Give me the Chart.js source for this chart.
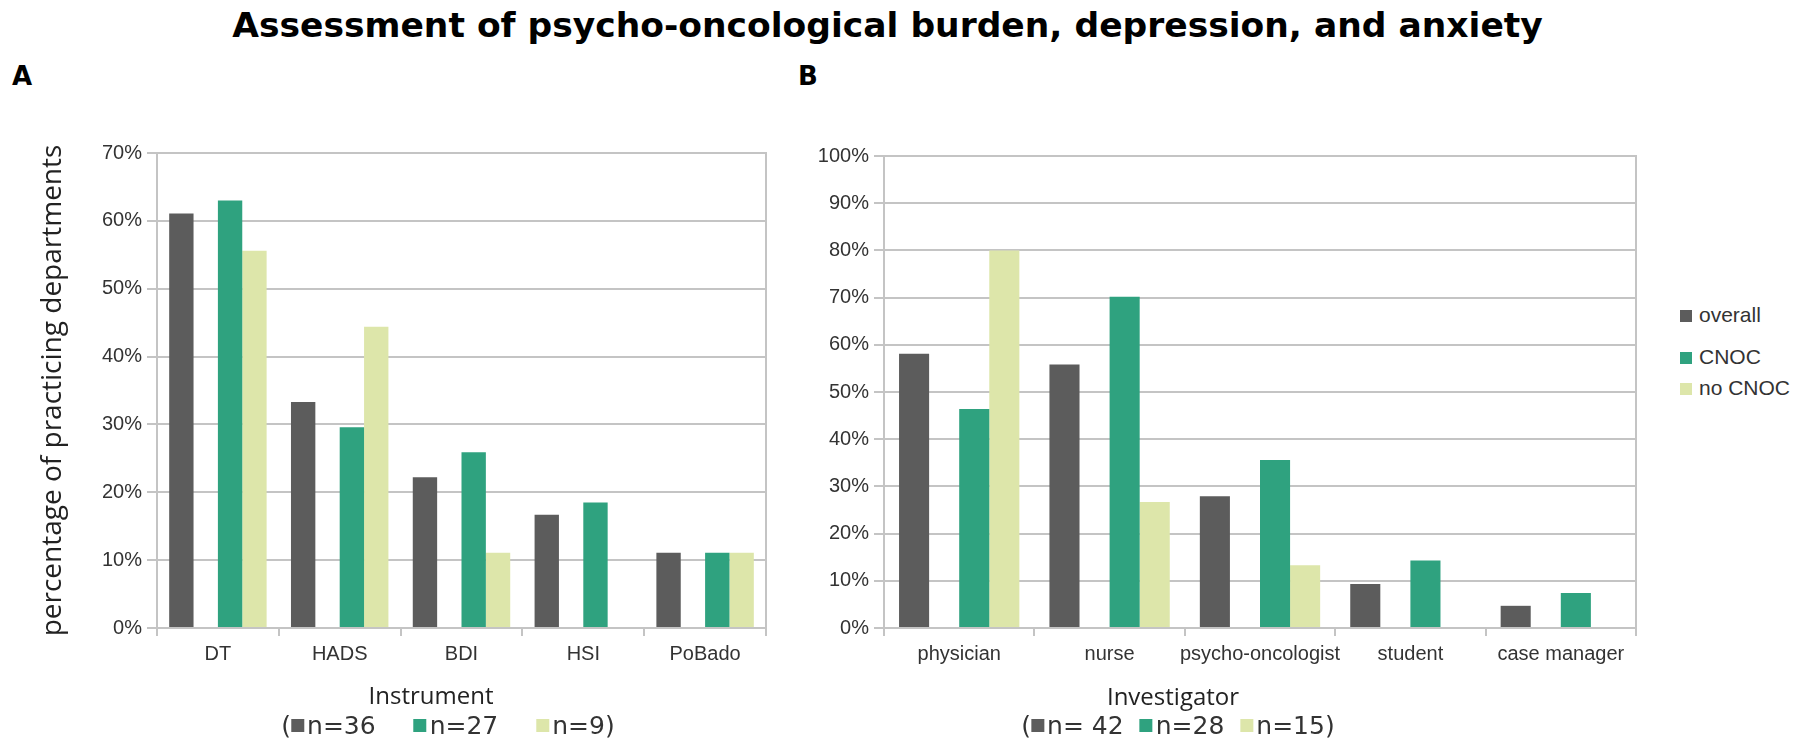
<!DOCTYPE html>
<html>
<head>
<meta charset="utf-8">
<script src="https://cdn.jsdelivr.net/npm/chart.js@4.4.1/dist/chart.umd.min.js"></script>
<style>
  html, body { margin: 0; padding: 0; background: #fff; }
  body { width: 1796px; height: 743px; position: relative; overflow: hidden; }
  .abs { position: absolute; white-space: nowrap; }
  #title { left: 0; width: 1775px; top: 5px; text-align: center; font-family: "DejaVu Sans", sans-serif; font-weight: bold; font-size: 34.5px; color: #000; line-height: 40px; }
  .panel { font-family: "DejaVu Sans", sans-serif; font-weight: bold; font-size: 26px; color: #000; line-height: 30px; top: 61px; }
  .axt { font-family: "Open Sans", sans-serif; font-size: 24px; color: #222; line-height: 30px; transform: translateX(-50%); }
  .nl { font-family: "DejaVu Sans", sans-serif; font-size: 25px; color: #333; line-height: 30px; transform: translateX(-50%); }
  .sq { display: inline-block; width: 13px; height: 13px; vertical-align: 2px; margin-right: 3px; }
  .gap { display: inline-block; }
  .leg { font-family: "Liberation Sans", Arial, sans-serif; font-size: 21px; color: #333; line-height: 24px; left: 1680px; }
  canvas { position: absolute; }
</style>
</head>
<body>
<div id="title" class="abs">Assessment of psycho-oncological burden, depression, and anxiety</div>
<div class="abs panel" style="left:12px;">A</div>
<div class="abs panel" style="left:798px;">B</div>

<canvas id="chartA" width="790" height="560" style="left:0px; top:130px;"></canvas>
<canvas id="chartB" width="860" height="560" style="left:800px; top:130px;"></canvas>

<div class="abs axt" style="left:431px; top:680px;">Instrument</div>
<div class="abs nl" id="nA" style="left:448px; top:711px;"></div>
<div class="abs axt" style="left:1173px; top:681px;">Investigator</div>
<div class="abs nl" id="nB" style="left:1178px; top:711px;"></div>

<div id="legend"></div>

<script>
// ---------- data ----------
const seriesNames = ['overall', 'CNOC', 'no CNOC'];
const seriesColors = ['#5c5c5c', '#2fa27f', '#dde6aa'];

const categoriesA = ['DT', 'HADS', 'BDI', 'HSI', 'PoBado'];
const overallA = [61.1, 33.3, 22.2, 16.7, 11.1];
const cnocA    = [63.0, 29.6, 25.9, 18.5, 11.1];
const noCnocA  = [55.6, 44.4, 11.1, 0, 11.1];
const sampleSizesA = ['n=36', 'n=27', 'n=9'];

const categoriesB = ['physician', 'nurse', 'psycho-oncologist', 'student', 'case manager'];
const overallB = [58.1, 55.8, 27.9, 9.3, 4.7];
const cnocB    = [46.4, 70.2, 35.6, 14.3, 7.4];
const noCnocB  = [80.0, 26.7, 13.3, 0, 0];
const sampleSizesB = ['n= 42', 'n=28', 'n=15'];

const yMaxA = 70, yMaxB = 100, yStep = 10;

// ---------- helpers ----------
const GRID = '#c4c4c4';
const TICKFONT = { family: "'Liberation Sans', Arial, sans-serif", size: 20 };

function datasets(overall, cnoc, noCnoc) {
  const spacer = overall.map(() => null);
  return [
    { label: seriesNames[0], data: overall, backgroundColor: seriesColors[0] },
    { label: '', data: spacer, backgroundColor: 'rgba(0,0,0,0)' },
    { label: seriesNames[1], data: cnoc, backgroundColor: seriesColors[1] },
    { label: seriesNames[2], data: noCnoc, backgroundColor: seriesColors[2] }
  ];
}

function makeChart(id, cats, ds, yMax, yWidth, yTitle, padTop) {
  return new Chart(document.getElementById(id), {
    type: 'bar',
    data: { labels: cats, datasets: ds },
    options: {
      responsive: false,
      animation: false,
      devicePixelRatio: 1,
      categoryPercentage: 0.8,
      barPercentage: 1.0,
      layout: { padding: { top: padTop, right: 24, left: 0, bottom: 0 } },
      plugins: { legend: { display: false }, tooltip: { enabled: false } },
      scales: {
        x: {
          grid: { display: true, offset: true, drawOnChartArea: false, drawTicks: true, tickLength: 8, color: GRID, lineWidth: 2 },
          border: { display: true, color: GRID, width: 2 },
          ticks: { font: TICKFONT, color: '#333', padding: 6, autoSkip: false, maxRotation: 0, minRotation: 0 },
          afterFit: s => { s.height = 62; }
        },
        y: {
          min: 0, max: yMax,
          ticks: { stepSize: yStep, font: TICKFONT, color: '#333', padding: 5, callback: v => v + '%' },
          grid: { color: GRID, lineWidth: 2, tickLength: 10 },
          border: { display: true, color: GRID, width: 2 },
          title: yTitle ? { display: true, text: yTitle, color: '#222', font: { family: "'Open Sans', sans-serif", size: 28 }, padding: { top: 36 } } : { display: false },
          afterFit: s => { s.width = yWidth; }
        },
        yr: {
          position: 'right',
          min: 0, max: yMax,
          grid: { display: false },
          ticks: { display: false },
          border: { display: true, color: GRID, width: 2 },
          afterFit: s => { s.width = 0; }
        }
      }
    }
  });
}

makeChart('chartA', categoriesA, datasets(overallA, cnocA, noCnocA), yMaxA, 157, 'percentage of practicing departments', 23);
makeChart('chartB', categoriesB, datasets(overallB, cnocB, noCnocB), yMaxB, 84, null, 26);

// ---------- sample-size lines ----------
function nLine(el, sizes, gap) {
  let html = '(';
  sizes.forEach((s, i) => {
    html += '<span class="sq" style="background:' + seriesColors[i] + '"></span>' + s + (i < sizes.length - 1 ? '<span class="gap" style="width:' + gap + 'px"></span>' : '');
  });
  html += ')';
  el.innerHTML = html;
}
nLine(document.getElementById('nA'), sampleSizesA, 38);
nLine(document.getElementById('nB'), sampleSizesB, 16);

// ---------- legend ----------
const legTops = [303, 345, 376];
const legend = document.getElementById('legend');
seriesNames.forEach((name, i) => {
  const d = document.createElement('div');
  d.className = 'abs leg';
  d.style.top = legTops[i] + 'px';
  d.innerHTML = '<span class="sq" style="background:' + seriesColors[i] + ';width:12px;height:12px;margin-right:7px;vertical-align:0px"></span>' + name;
  legend.appendChild(d);
});
</script>
</body>
</html>
